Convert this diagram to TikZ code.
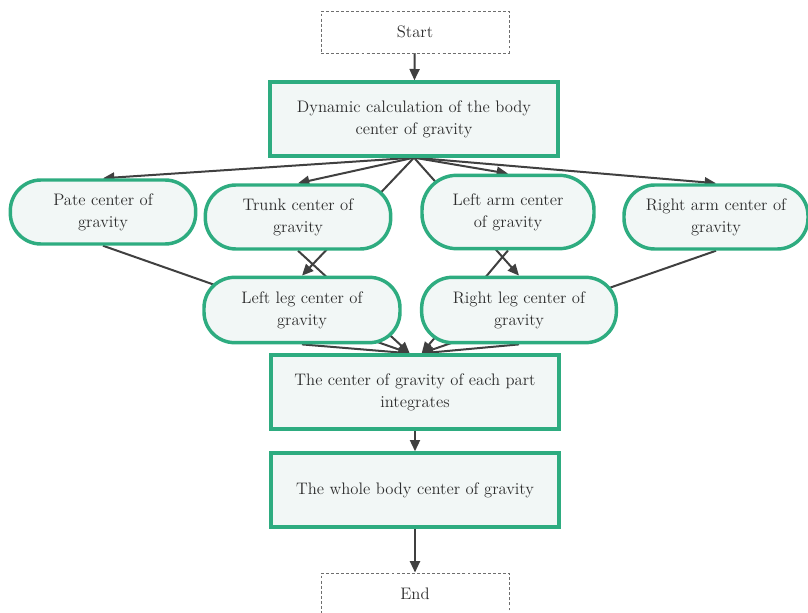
\documentclass[tikz,border=0pt]{standalone}
\usetikzlibrary{arrows.meta,backgrounds}
\definecolor{grn}{RGB}{46,172,128}
\definecolor{fillc}{RGB}{242,247,246}
\definecolor{arr}{RGB}{64,64,64}
\definecolor{txt}{RGB}{45,45,45}
\definecolor{dashc}{RGB}{110,110,110}
\begin{document}
\begin{tikzpicture}[x=0.75pt,y=-0.75pt,
  font=\fontsize{12.5}{16.5}\selectfont, text=txt,
  every node/.style={align=center, inner sep=0pt},
  dbox/.style={draw=dashc, line width=0.7pt, dash pattern=on 2.2pt off 1.6pt, fill=white,
    minimum width=141pt, minimum height=31.5pt},
  sbox/.style={draw=grn, line width=3pt, fill=fillc, minimum width=216pt, minimum height=55pt},
  pill/.style={draw=grn, line width=2.6pt, fill=fillc, rounded corners=23pt},
  conn/.style={draw=arr, line width=1.5pt},
  tip/.style={-{Triangle[length=8.5pt,width=7.5pt]}}]
\useasboundingbox (0,0) rectangle (808,613);

\node[dbox] (start) at (415,32) {Start};
\node[sbox] (dyn) at (414,119) {Dynamic calculation of the body\\center of gravity};

\node[pill, minimum width=139pt, minimum height=48pt] (pate) at (103,212) {Pate center of\\gravity};
\node[pill, minimum width=139pt, minimum height=48pt] (trunk) at (298,217) {Trunk center of\\gravity};
\node[pill, minimum width=129pt, minimum height=55pt, rounded corners=26pt] (larm) at (508,212) {Left arm center\\of gravity};
\node[pill, minimum width=138pt, minimum height=48pt] (rarm) at (716,217) {Right arm center of\\gravity};

\node[pill, minimum width=147pt, minimum height=49pt] (lleg) at (302,310) {Left leg center of\\gravity};
\node[pill, minimum width=146pt, minimum height=49pt] (rleg) at (519,310) {Right leg center of\\gravity};

\node[sbox] (integ) at (415,392) {The center of gravity of each part\\integrates};
\node[sbox] (whole) at (415,490) {The whole body center of gravity};
\node[dbox] (end) at (415,594) {End};

\begin{scope}[on background layer]
  \draw[conn,tip] (start) -- (dyn);
  \draw[conn,tip] (dyn.south) -- (pate.north);
  \draw[conn,tip] (dyn.south) -- (trunk.north);
  \draw[conn,tip] (dyn.south) -- (larm.north);
  \draw[conn,tip] (dyn.south) -- (rarm.north);
  \draw[conn,tip] (dyn.south) -- (lleg.north);
  \draw[conn,tip] (dyn.south) -- (rleg.north);
  \draw[conn,tip] (pate.south) -- ([xshift=-4pt]integ.north);
  \draw[conn,tip] (trunk.south) -- ([xshift=-4pt]integ.north);
  \draw[conn,tip] (lleg.south) -- ([xshift=-4pt]integ.north);
  \draw[conn,tip] (larm.south) -- ([xshift=5pt]integ.north);
  \draw[conn,tip] (rarm.south) -- ([xshift=5pt]integ.north);
  \draw[conn,tip] (rleg.south) -- ([xshift=5pt]integ.north);
  \draw[conn,tip] (integ) -- (whole);
  \draw[conn,tip] (whole) -- (end);
\end{scope}
\end{tikzpicture}
\end{document}
